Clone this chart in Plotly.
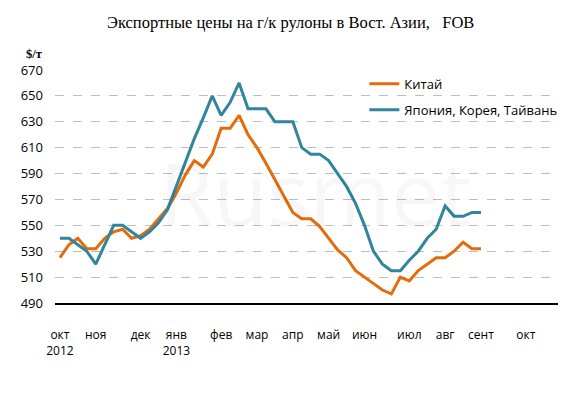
import plotly.graph_objects as go

title = "Экспортные цены на г/к рулоны в Вост. Азии,\u00a0\u00a0 FOB"
unit_label = "$/т"

# weekly observations, Oct 2012 – Sep 2013
china = [525, 535, 540, 532, 532, 540, 545, 547, 540, 542,
         547, 555, 563, 575, 589, 600, 595, 605, 625, 625,
         635, 620, 610, 598, 585, 572, 560, 555, 555, 549,
         540, 531, 525, 515, 510, 505, 500, 497, 510, 507,
         515, 520, 525, 525, 530, 537, 532, 532]
jkt = [540, 540, 535, 530, 520, 535, 550, 550, 545, 540,
       545, 552, 562, 580, 598, 617, 633, 650, 635, 645,
       660, 640, 640, 640, 630, 630, 630, 610, 605, 605,
       600, 590, 580, 567, 550, 530, 520, 515, 515, 523,
       530, 540, 547, 565, 557, 557, 560, 560]
weeks = list(range(len(china)))

month_pos = [0, 4, 9, 13, 18, 22, 26, 30, 34, 39, 43, 47, 52]
month_labels = ["окт<br>2012", "ноя", "дек", "янв<br>2013", "фев", "мар", "апр",
                "май", "июн", "июл", "авг", "сент", "окт"]
y_ticks = [490, 510, 530, 550, 570, 590, 610, 630, 650, 670]

series_names = ["Китай", "Япония, Корея, Тайвань"]
colors = ["#E46C0A", "#31859C"]

fig = go.Figure()
fig.add_trace(go.Scatter(x=weeks, y=china, mode="lines", name=series_names[0],
                         line=dict(color=colors[0], width=3), legendgroup="a"))
fig.add_trace(go.Scatter(x=weeks, y=jkt, mode="lines", name=series_names[1],
                         line=dict(color=colors[1], width=3), legendgroup="b"))

fig.update_layout(
    width=579, height=396,
    margin=dict(l=55, r=21, t=70, b=93),
    paper_bgcolor="white", plot_bgcolor="white",
    font=dict(family="Open Sans", size=13, color="#000"),
    showlegend=True,
    legend=dict(x=0.615, y=1.005, xanchor="left", yanchor="top",
                bgcolor="rgba(0,0,0,0)", tracegroupgap=6,
                font=dict(family="Open Sans", size=13)),
    xaxis=dict(range=[-0.55, 55.6], tickmode="array", tickvals=month_pos,
               ticktext=month_labels, showgrid=False, zeroline=False,
               showline=True, linecolor="#000", linewidth=1.5,
               ticks="", ticklabelstandoff=20,
               tickfont=dict(family="Open Sans", size=12)),
    yaxis=dict(range=[490, 670], tickmode="array", tickvals=y_ticks,
               showgrid=True, gridcolor="#BEBEBE", griddash="dash", gridwidth=1,
               zeroline=False, showline=False, ticks="", ticklabelstandoff=11,
               tickfont=dict(family="Open Sans", size=13)),
    annotations=[
        dict(text=title, xref="paper", yref="paper", x=(290 - 55) / 503, y=1 + (70 - 22) / 233,
             xanchor="center", yanchor="middle", showarrow=False,
             font=dict(family="Liberation Serif", size=16.5, color="#000")),
        dict(text="<b>" + unit_label + "</b>", xref="paper", yref="paper",
             x=(25 - 55) / 503, y=1 + (70 - 54) / 233, xanchor="left", yanchor="middle",
             showarrow=False, borderpad=0,
             font=dict(family="Liberation Serif", size=12.5, color="#000")),
        dict(text="Rusmet", xref="paper", yref="paper", x=(315 - 55) / 503, y=1 - (192 - 70) / 233,
             xanchor="center", yanchor="middle", showarrow=False,
             font=dict(family="Open Sans", size=88, color="rgba(0,0,0,0.03)")),
    ],
)

fig.write_html("out.html", config={"displayModeBar": False},
               post_script="document.body.style.margin='0';")
